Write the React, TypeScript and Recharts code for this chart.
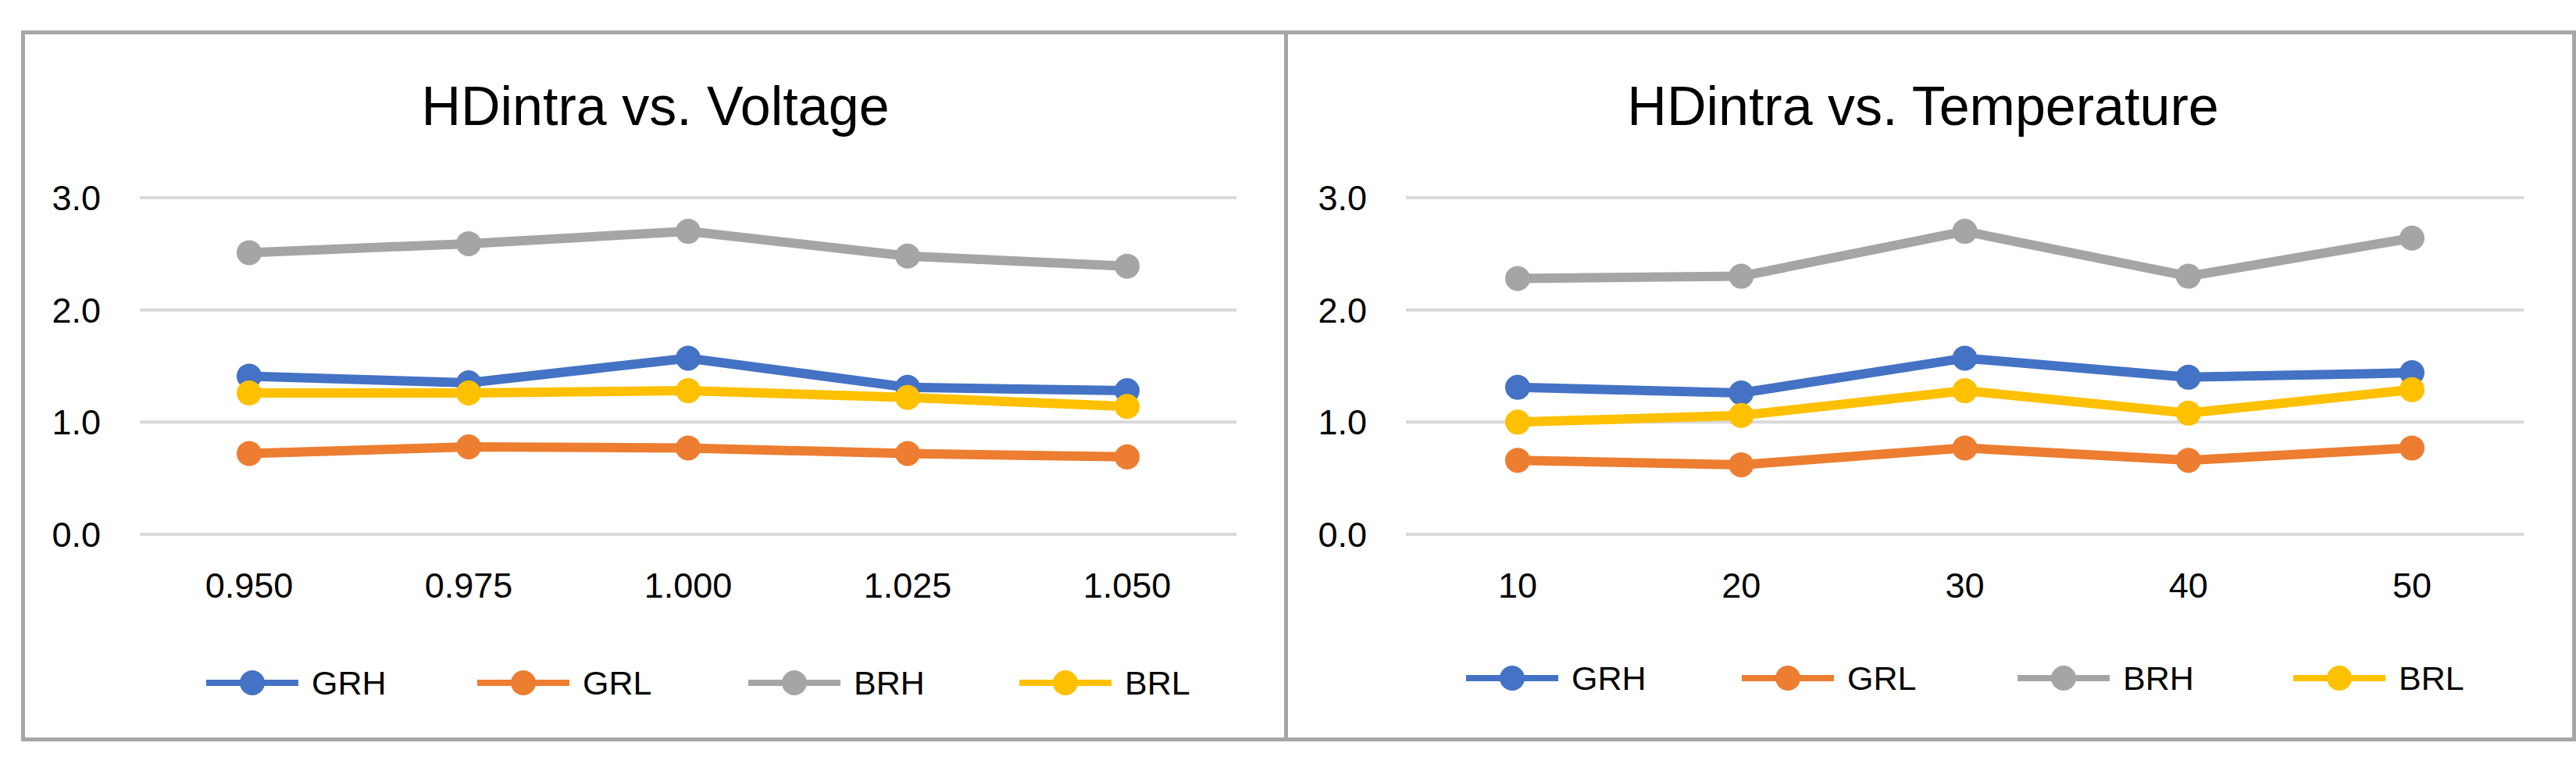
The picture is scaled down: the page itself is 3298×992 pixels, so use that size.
import React from "react";
import { LineChart, Line, XAxis, YAxis, CartesianGrid, Legend } from "recharts";

const voltageLabels = ["0.950", "0.975", "1.000", "1.025", "1.050"];
const voltGRH = [1.41, 1.35, 1.57, 1.31, 1.28];
const voltGRL = [0.72, 0.78, 0.77, 0.72, 0.69];
const voltBRH = [2.51, 2.59, 2.7, 2.48, 2.39];
const voltBRL = [1.26, 1.26, 1.28, 1.22, 1.14];

const tempLabels = ["10", "20", "30", "40", "50"];
const tempGRH = [1.31, 1.26, 1.57, 1.4, 1.44];
const tempGRL = [0.66, 0.62, 0.77, 0.66, 0.77];
const tempBRH = [2.28, 2.3, 2.7, 2.3, 2.64];
const tempBRL = [1.0, 1.06, 1.28, 1.08, 1.29];

const yTicks = [0, 1, 2, 3];
const seriesNames = ["GRH", "GRL", "BRH", "BRL"];
const colors = ["#4472C4", "#ED7D31", "#A5A5A5", "#FFC000"];

const FONT = "'Liberation Sans', Arial, sans-serif";

function buildRows(labels: string[], a: number[], b: number[], c: number[], d: number[]) {
  return labels.map((x, i) => ({ x, GRH: a[i], GRL: b[i], BRH: c[i], BRL: d[i] }));
}

const voltRows = buildRows(voltageLabels, voltGRH, voltGRL, voltBRH, voltBRL);
const tempRows = buildRows(tempLabels, tempGRH, tempGRL, tempBRH, tempBRL);

const makeLegend = (itemWidth: number) => (props: any) => {
  const payload = [...(props.payload || [])].sort(
    (a: any, b: any) => seriesNames.indexOf(a.value) - seriesNames.indexOf(b.value)
  );
  return (
    <div style={{ display: "flex", height: 50, alignItems: "center" }}>
      {payload.map((p: any) => (
        <div key={p.value} style={{ width: itemWidth, display: "flex", alignItems: "center", flexShrink: 0 }}>
          <svg width={118} height={36} style={{ display: "block" }}>
            <line x1={0} y1={18} x2={118} y2={18} stroke={p.color} strokeWidth={8} />
            <circle cx={59} cy={18} r={16} fill={p.color} />
          </svg>
          <span style={{ marginLeft: 17, fontSize: 43, fontFamily: FONT, color: "#000", lineHeight: "50px" }}>
            {p.value}
          </span>
        </div>
      ))}
    </div>
  );
};

type PanelProps = {
  rows: any[];
  left: number;
  width: number;
  yAxisWidth: number;
  marginRight: number;
  padding: number;
  legendLeft: number;
  legendTop: number;
  legendItemWidth: number;
};

function Panel(p: PanelProps) {
  return (
    <div style={{ position: "absolute", left: p.left, top: 0 }}>
      <LineChart
        width={p.width}
        height={992}
        data={p.rows}
        margin={{ top: 253, right: p.marginRight, bottom: 208, left: 0 }}
      >
        <CartesianGrid vertical={false} stroke="#D9D9D9" strokeWidth={4} />
        <XAxis
          dataKey="x"
          type="category"
          axisLine={false}
          tickLine={false}
          tickSize={0}
          tickMargin={49}
          height={100}
          padding={{ left: p.padding, right: p.padding }}
          tick={{ fontSize: 45, fontFamily: FONT, fill: "#000" }}
          interval={0}
        />
        <YAxis
          domain={[0, 3]}
          ticks={yTicks}
          width={p.yAxisWidth}
          axisLine={false}
          tickLine={false}
          tickSize={0}
          tickMargin={50}
          tickFormatter={(v: number) => v.toFixed(1)}
          tick={{ fontSize: 45, fontFamily: FONT, fill: "#000" }}
        />
        <Legend
          verticalAlign="middle"
          align="center"
          layout="horizontal"
          itemSorter={null as any}
          content={makeLegend(p.legendItemWidth)}
          wrapperStyle={{ left: p.legendLeft, top: p.legendTop, width: 1500, height: 0 }}
        />
        {seriesNames.map((name, i) => (
          <Line
            key={name}
            type="linear"
            dataKey={name}
            name={name}
            stroke={colors[i]}
            strokeWidth={12}
            dot={{ r: 16, fill: colors[i], stroke: colors[i], strokeWidth: 0 }}
            activeDot={false}
            isAnimationActive={false}
          />
        ))}
      </LineChart>
    </div>
  );
}

export default function App() {
  return (
    <div
      style={{
        position: "absolute",
        left: 0,
        top: 0,
        width: 3298,
        height: 992,
        overflow: "hidden",
        background: "#fff",
      }}
    >
      <div
        style={{
          position: "absolute",
          left: 27,
          top: 39,
          width: 3271,
          height: 910,
          border: "5px solid #A6A6A6",
          boxSizing: "border-box",
        }}
      />
      <div style={{ position: "absolute", left: 1644, top: 39, width: 5, height: 910, background: "#A6A6A6" }} />
      <div
        style={{
          position: "absolute",
          left: 839 - 800,
          top: 101,
          width: 1600,
          textAlign: "center",
          fontSize: 70,
          lineHeight: "70px",
          fontFamily: FONT,
          color: "#000",
        }}
      >
        HDintra vs. Voltage
      </div>
      <div
        style={{
          position: "absolute",
          left: 2462 - 800,
          top: 101,
          width: 1600,
          textAlign: "center",
          fontSize: 70,
          lineHeight: "70px",
          fontFamily: FONT,
          color: "#000",
        }}
      >
        HDintra vs. Temperature
      </div>
      <Panel
        rows={voltRows}
        left={0}
        width={1646}
        yAxisWidth={179}
        marginRight={63}
        padding={140}
        legendLeft={264}
        legendTop={849}
        legendItemWidth={347}
      />
      <Panel
        rows={tempRows}
        left={1646}
        width={1652}
        yAxisWidth={154}
        marginRight={67}
        padding={143}
        legendLeft={231}
        legendTop={843}
        legendItemWidth={353}
      />
    </div>
  );
}
